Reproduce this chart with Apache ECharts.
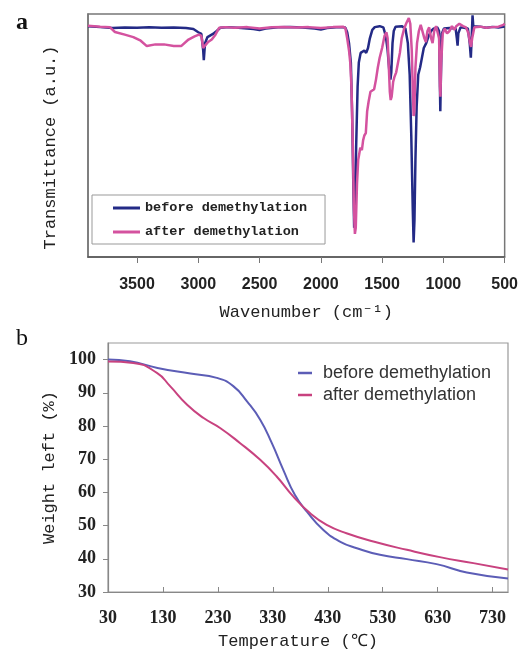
<!DOCTYPE html>
<html>
<head>
<meta charset="utf-8">
<script src="https://cdn.jsdelivr.net/npm/echarts@6/dist/echarts.min.js"></script>
<style>
  html, body { margin: 0; padding: 0; background: #fff; }
  #chart { width: 521px; height: 654px; }
</style>
</head>
<body>
<div id="chart"></div>
<script>
// ---- (a) FTIR spectra: wavenumber (cm-1) vs transmittance (a.u.) ----
const irBeforeWn = [3900,3800,3700,3600,3500,3400,3300,3200,3100,3040,3000,2975,2960,2955,2945,2925,2880,2850,2820,2750,2650,2550,2500,2450,2350,2250,2150,2050,2000,1950,1850,1800,1785,1770,1755,1745,1735,1728,1720,1712,1700,1690,1675,1660,1645,1630,1615,1600,1580,1560,1520,1490,1470,1455,1440,1432,1425,1415,1405,1390,1340,1310,1290,1275,1262,1250,1243,1236,1228,1218,1205,1190,1175,1160,1140,1120,1100,1080,1050,1035,1028,1025,1020,1012,995,950,900,890,884,878,860,830,800,785,776,770,762,756,750,700,650,600,550,500];
const irBeforeT  = [95.0,94.6,94.2,94.4,94.3,94.5,94.3,94.4,94.2,93.8,92.5,91.8,85,81,88,90.5,91.8,93,94.3,94.6,94.2,93.8,93.4,94,94.5,94.6,94.4,94.0,93.6,94.2,94.6,94.4,92.5,88,80,60,30,12,18,45,70,80,84,83.5,85,84,86,90,93.5,94.6,95,94.5,91,85,76,73,76,88,93,94.8,95,94,88,75,50,20,6,15,40,62,75,78,82,86,88,91,93,94,94.5,93,70,60,75,92,94,94.2,94,90,87,92,94.5,94.3,94,88,82,89,99.5,95,94.6,94.8,94.3,94.7,94.4,94.8];

const irAfterWn = [3900,3800,3720,3680,3600,3530,3470,3420,3350,3280,3200,3140,3080,3030,2995,2975,2960,2945,2920,2890,2860,2830,2780,2700,2600,2500,2400,2300,2200,2100,2000,1900,1820,1800,1785,1770,1760,1750,1740,1730,1722,1715,1705,1695,1688,1678,1665,1655,1645,1633,1622,1610,1595,1580,1565,1550,1535,1520,1500,1480,1465,1455,1445,1437,1430,1422,1410,1400,1385,1370,1355,1340,1320,1300,1282,1270,1258,1250,1243,1237,1228,1215,1200,1185,1170,1155,1143,1130,1116,1100,1088,1075,1060,1045,1035,1028,1024,1018,1005,990,970,950,930,910,895,870,840,815,795,783,774,765,747,700,650,600,550,510,500];
const irAfterT  = [95.2,94.8,94.5,92.6,91.5,90.5,89,86.8,87.5,87.5,86.8,86.8,89.5,90.8,91.5,91,86,87,88.5,89.5,91.5,94.3,94.6,94.3,94.6,94.0,94.5,94.7,94.4,94.6,94.2,94.6,94.8,94.2,90,85,80,70,48,20,9.5,12,30,40,42,45,44,48,50,51,60,64,68,68.5,69,73,78,82,86,91,92.5,90,78,68,64.6,66,72,74,76,80,84,90,94,96.5,98.3,96,85,70,58,60,78,88,93,95.5,95,90,88.5,93,94.5,90,88,93,95,94.5,90,70,66,80,92,94,92,93,95,93.5,95,96,95,94.5,92,88,86.5,90,94.5,94.8,94.3,94.6,94.8,95.5,96];

// ---- (b) TGA curves: temperature (°C) vs weight left (%) ----
const tgaBeforeTemp = [30,70,120,180,228,258,283,307,328,349,370,392,422,452,483,525,574,628,683,758];
const tgaBeforeWt   = [100,99.5,97.5,95.8,94.5,92,87.4,81.9,74.9,66.8,59.3,54.2,48.7,45.2,43.2,41.2,39.9,38.4,35.9,34.1];
const tgaAfterTemp  = [30,76,119,143,174,204,234,270,307,337,367,398,428,464,513,574,634,695,758];
const tgaAfterWt    = [99.4,99,96,92,86.4,82.4,79.4,74.9,69.8,64.8,58.8,53.7,50.2,47.7,45.2,42.7,40.5,38.7,36.8];

const seriesNames = ['before demethylation', 'after demethylation'];

const zip = (xs, ys) => xs.map((x, i) => [x, ys[i]]);

const BLUE_A = '#232a86';
const PINK_A = '#d4529f';
const BLUE_B = '#5c5db6';
const PINK_B = '#c8427f';
const MONO = '"Liberation Mono", "DejaVu Sans Mono", monospace';

const chart = echarts.init(document.getElementById('chart'), null, { renderer: 'canvas' });

chart.setOption({
  animation: false,
  backgroundColor: '#fff',
  title: [
    { text: 'a', left: 11, top: 6, textStyle: { fontFamily: '"Liberation Serif", serif', fontWeight: 'bold', fontSize: 24, color: '#111' } },
    { text: 'b', left: 11, top: 322, textStyle: { fontFamily: '"Liberation Serif", serif', fontWeight: 'normal', fontSize: 24, color: '#111' } }
  ],
  grid: [
    { left: 88, top: 14, width: 417, height: 243, show: true, borderColor: '#777', borderWidth: 1.5, backgroundColor: '#fff' },
    { left: 108, top: 343, width: 400, height: 249, show: true, borderColor: '#999', borderWidth: 1.2, backgroundColor: '#fff' }
  ],
  legend: [
    {
      left: 92, top: 195, orient: 'vertical',
      padding: [6, 18, 5, 21],
      borderColor: '#999', borderWidth: 1, backgroundColor: '#fff',
      itemWidth: 27, itemHeight: 3, itemGap: 10,
      textStyle: { fontFamily: MONO, fontWeight: 'bold', fontSize: 13.5, lineHeight: 14, color: '#222' },
      data: [
        { name: seriesNames[0], icon: 'rect', itemStyle: { color: BLUE_A } },
        { name: seriesNames[1], icon: 'rect', itemStyle: { color: PINK_A } }
      ]
    },
    {
      left: 298, top: 364, orient: 'vertical',
      padding: 0,
      itemWidth: 14, itemHeight: 2.5, itemGap: 4,
      textStyle: { fontFamily: '"Liberation Sans", Arial, sans-serif', fontSize: 18, lineHeight: 18, color: '#333', padding: [0, 0, 0, 6] },
      data: [
        { name: seriesNames[0], icon: 'rect', itemStyle: { color: BLUE_B } },
        { name: seriesNames[1], icon: 'rect', itemStyle: { color: PINK_B } }
      ]
    }
  ],
  xAxis: [
    {
      gridIndex: 0, type: 'value', inverse: true,
      min: 500, max: 3900, interval: 500,
      name: 'Wavenumber (cm⁻¹)', nameLocation: 'middle', nameGap: 47,
      nameTextStyle: { fontFamily: MONO, fontSize: 17, color: '#222', padding: [0, 0, 0, 20] },
      axisLine: { lineStyle: { color: '#555', width: 1.5 } },
      axisTick: { show: true, inside: false, length: 6, lineStyle: { color: '#777' } },
      axisLabel: { margin: 20, showMaxLabel: false, formatter: v => String(v), fontFamily: '"Liberation Sans", Arial, sans-serif', fontWeight: 'bold', fontSize: 16, color: '#222' },
      splitLine: { show: false }
    },
    {
      gridIndex: 1, type: 'value',
      min: 30, max: 758, interval: 100,
      name: 'Temperature (℃)', nameLocation: 'middle', nameGap: 41,
      nameTextStyle: { fontFamily: MONO, fontSize: 17, color: '#222', padding: [0, 20, 0, 0] },
      axisLine: { lineStyle: { color: '#888', width: 1.2 } },
      axisTick: { show: true, inside: true, length: 5, lineStyle: { color: '#888' } },
      axisLabel: { margin: 17, showMaxLabel: false, formatter: v => String(v), fontFamily: '"Liberation Serif", serif', fontWeight: 'bold', fontSize: 18, color: '#222' },
      splitLine: { show: false }
    }
  ],
  yAxis: [
    {
      gridIndex: 0, type: 'value', min: 0, max: 100,
      name: 'Transmittance (a.u.)', nameLocation: 'middle', nameGap: 29,
      nameTextStyle: { fontFamily: MONO, fontSize: 17, color: '#222', padding: [0, 24, 0, 0] },
      axisLine: { show: true, lineStyle: { color: '#777', width: 1.5 } },
      axisTick: { show: false },
      axisLabel: { show: false },
      splitLine: { show: false }
    },
    {
      gridIndex: 1, type: 'value', min: 30, max: 105, interval: 10,
      name: 'Weight left (%)', nameLocation: 'middle', nameGap: 47,
      nameTextStyle: { fontFamily: MONO, fontSize: 17, color: '#222' },
      axisLine: { show: true, lineStyle: { color: '#888', width: 1.2 } },
      axisTick: { show: true, inside: false, length: 5, lineStyle: { color: '#888' } },
      axisLabel: { margin: 12, showMaxLabel: false, fontFamily: '"Liberation Serif", serif', fontWeight: 'bold', fontSize: 18, color: '#222' },
      splitLine: { show: false }
    }
  ],
  series: [
    {
      name: seriesNames[0], type: 'line', xAxisIndex: 0, yAxisIndex: 0,
      data: zip(irBeforeWn, irBeforeT), showSymbol: false, symbol: 'none',
      lineStyle: { color: BLUE_A, width: 2.5 }, itemStyle: { color: BLUE_A }, z: 2
    },
    {
      name: seriesNames[1], type: 'line', xAxisIndex: 0, yAxisIndex: 0,
      data: zip(irAfterWn, irAfterT), showSymbol: false, symbol: 'none',
      lineStyle: { color: PINK_A, width: 2.5 }, itemStyle: { color: PINK_A }, z: 3
    },
    {
      name: seriesNames[0], type: 'line', xAxisIndex: 1, yAxisIndex: 1,
      data: zip(tgaBeforeTemp, tgaBeforeWt), showSymbol: false, symbol: 'none',
      smooth: 0.5,
      lineStyle: { color: BLUE_B, width: 2 }, itemStyle: { color: BLUE_B }
    },
    {
      name: seriesNames[1], type: 'line', xAxisIndex: 1, yAxisIndex: 1,
      data: zip(tgaAfterTemp, tgaAfterWt), showSymbol: false, symbol: 'none',
      smooth: 0.5,
      lineStyle: { color: PINK_B, width: 2 }, itemStyle: { color: PINK_B }
    }
  ]
});
</script>
</body>
</html>
